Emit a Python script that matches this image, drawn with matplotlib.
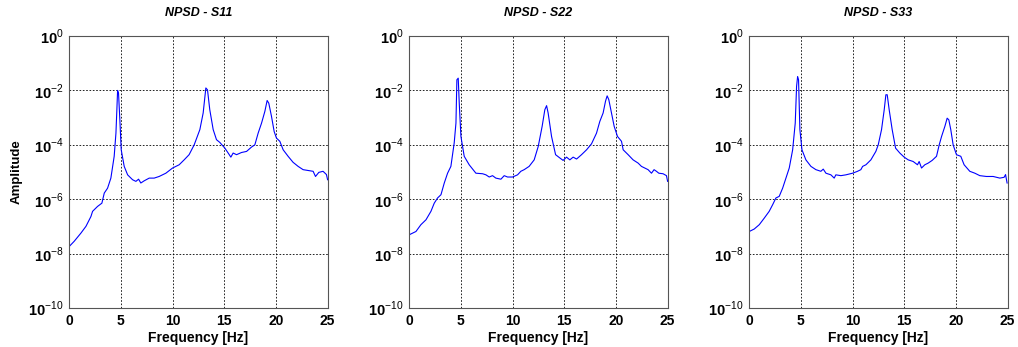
import numpy as np
import matplotlib
matplotlib.use("Agg")
import matplotlib.pyplot as plt

plt.rcParams['font.family'] = ['Liberation Sans', 'DejaVu Sans']
plt.rcParams['mathtext.fontset'] = 'custom'
plt.rcParams['mathtext.rm'] = 'Liberation Sans'
plt.rcParams['mathtext.bf'] = 'Liberation Sans:bold'

# ----------
# DATA (amplitude stored as log10)
# ----------
titles = ["NPSD - S11", "NPSD - S22", "NPSD - S33"]

s11_freq = [0, 0.48, 1.13, 1.62, 2.1, 2.26, 2.74, 3.16, 3.39, 3.71, 4.03, 4.35, 4.52,
            4.61, 4.68, 4.77, 4.9, 5.03, 5.32, 5.65, 6.13, 6.45, 6.71, 6.93, 7.25,
            7.74, 8.22, 8.7, 9.35, 10.0, 10.64, 11.12, 11.6, 12.09, 12.64, 12.96,
            13.22, 13.38, 13.6, 13.93, 14.25, 14.57, 15.06, 15.38, 15.64, 15.86,
            16.19, 16.67, 17.16, 17.64, 17.96, 18.28, 18.61, 18.93, 19.15, 19.31,
            19.57, 19.83, 20.05, 20.38, 20.7, 21.18, 21.66, 22.15, 22.63, 23.11,
            23.6, 23.83, 24.15, 24.56, 24.89, 25.0]
s11_log = [-7.73, -7.54, -7.24, -6.99, -6.63, -6.44, -6.26, -6.14, -5.77, -5.59, -5.22,
           -4.42, -3.57, -2.71, -2.0, -2.1, -3.08, -4.18, -4.79, -5.10, -5.28, -5.34,
           -5.26, -5.40, -5.32, -5.22, -5.22, -5.16, -5.04, -4.85, -4.73, -4.55, -4.36,
           -4.0, -3.44, -2.83, -1.91, -1.98, -2.71, -3.44, -3.81, -3.91, -4.12, -4.30,
           -4.45, -4.30, -4.36, -4.28, -4.24, -4.08, -4.0, -3.57, -3.2, -2.77, -2.37,
           -2.47, -2.95, -3.51, -3.75, -3.87, -4.18, -4.42, -4.64, -4.79, -4.91, -4.94,
           -4.97, -5.16, -5.01, -4.97, -5.09, -5.28]

s22_freq = [0, 0.65, 1.13, 1.62, 2.1, 2.42, 2.74, 3.07, 3.39, 3.71, 4.03, 4.35, 4.52,
            4.61, 4.74, 4.84, 5.0, 5.32, 5.8, 6.45, 7.1, 7.42, 7.74, 8.06, 8.38, 8.87,
            9.19, 9.51, 10.0, 10.48, 10.8, 11.12, 11.6, 12.09, 12.48, 12.86, 13.12,
            13.29, 13.44, 13.77, 14.16, 14.57, 14.89, 15.22, 15.54, 15.86, 16.19,
            16.67, 17.16, 17.64, 18.12, 18.44, 18.76, 18.99, 19.15, 19.31, 19.57,
            19.83, 20.15, 20.54, 20.7, 21.18, 21.66, 22.15, 22.47, 22.79, 23.11,
            23.44, 23.69, 23.92, 24.15, 24.56, 24.89, 25.0]
s22_log = [-7.30, -7.18, -6.93, -6.75, -6.44, -6.14, -5.95, -5.83, -5.40, -5.04, -4.79,
           -3.93, -3.20, -1.61, -1.55, -2.47, -3.69, -4.42, -4.73, -5.04, -5.06, -5.10,
           -5.18, -5.13, -5.22, -5.26, -5.13, -5.18, -5.18, -5.10, -4.97, -4.91, -4.79,
           -4.55, -4.06, -3.32, -2.71, -2.56, -2.83, -3.69, -4.36, -4.48, -4.57, -4.45,
           -4.55, -4.45, -4.52, -4.36, -4.18, -3.96, -3.57, -3.14, -2.83, -2.40, -2.20,
           -2.34, -2.83, -3.32, -3.69, -3.87, -4.18, -4.36, -4.55, -4.67, -4.79, -4.85,
           -4.91, -5.04, -4.91, -4.97, -5.04, -5.06, -5.13, -5.34]

s33_freq = [0, 0.48, 0.97, 1.45, 1.93, 2.26, 2.58, 2.9, 3.23, 3.55, 3.87, 4.2, 4.45,
            4.58, 4.68, 4.77, 4.9, 5.1, 5.48, 5.97, 6.45, 6.93, 7.16, 7.42, 7.9, 8.22,
            8.38, 8.87, 9.35, 10.0, 10.48, 10.8, 10.97, 11.29, 11.77, 12.25, 12.48,
            12.8, 13.06, 13.22, 13.35, 13.54, 13.83, 14.16, 14.57, 14.99, 15.38,
            15.86, 16.28, 16.44, 16.67, 16.99, 17.31, 17.7, 18.12, 18.38, 18.61,
            18.93, 19.15, 19.31, 19.5, 19.73, 20.05, 20.47, 20.79, 21.34, 21.83,
            22.31, 22.95, 23.6, 24.25, 24.66, 24.8, 24.95]
s33_log = [-7.18, -7.09, -6.93, -6.69, -6.44, -6.20, -5.95, -5.89, -5.59, -5.22, -4.85,
           -4.18, -3.20, -1.85, -1.49, -1.61, -3.44, -4.18, -4.55, -4.79, -4.91, -4.97,
           -4.89, -5.04, -5.10, -5.22, -5.10, -5.13, -5.10, -5.04, -4.97, -4.91, -4.79,
           -4.73, -4.55, -4.24, -4.0, -3.44, -2.71, -2.16, -2.16, -2.71, -3.44, -4.12,
           -4.30, -4.45, -4.55, -4.61, -4.73, -4.61, -4.85, -4.73, -4.67, -4.57, -4.42,
           -4.0, -3.69, -3.32, -3.02, -3.08, -3.44, -4.0, -4.36, -4.42, -4.73, -4.97,
           -5.04, -5.13, -5.16, -5.16, -5.22, -5.19, -5.09, -5.40]

freqs = [s11_freq, s22_freq, s33_freq]
logs = [s11_log, s22_log, s33_log]

x_ticks = [0, 5, 10, 15, 20, 25]
y_exps = [-10, -8, -6, -4, -2, 0]

# ----------
# FIGURE
# ----------
fig = plt.figure(figsize=(10.18, 3.47), dpi=100)
lefts = [0.068, 0.402, 0.736]

for i in range(3):
    ax = fig.add_axes([lefts[i], 0.1115, 0.2538, 0.785])
    ax.plot(freqs[i], 10.0 ** np.array(logs[i]), color=(0, 0, 1), lw=0.8)
    ax.set_yscale('log')
    ax.set_xlim(0, 25)
    ax.set_ylim(1e-10, 1e0)
    ax.set_xticks(x_ticks)
    ax.set_xticklabels([str(t) for t in x_ticks], fontweight='bold', fontsize=10)
    ax.set_yticks([10.0 ** e for e in y_exps])
    ax.set_yticklabels([r"$\mathbf{10}^{\mathrm{%d}}$" % e for e in y_exps], fontsize=10.5)
    ax.minorticks_off()
    ax.grid(True, color='black', linestyle=(0, (2, 2)), linewidth=0.6)
    ax.tick_params(direction='in', length=0, pad=4)
    for sp in ax.spines.values():
        sp.set_color('#555555')
        sp.set_linewidth(0.8)
    ax.set_title(titles[i], fontsize=9, fontweight='bold', fontstyle='italic', pad=14)
    ax.set_xlabel("Frequency [Hz]", fontsize=10, fontweight='bold', labelpad=2)
    if i == 0:
        ax.set_ylabel("Amplitude", fontsize=9.5, fontweight='bold', labelpad=4)

fig.savefig("out.png", dpi=100)
